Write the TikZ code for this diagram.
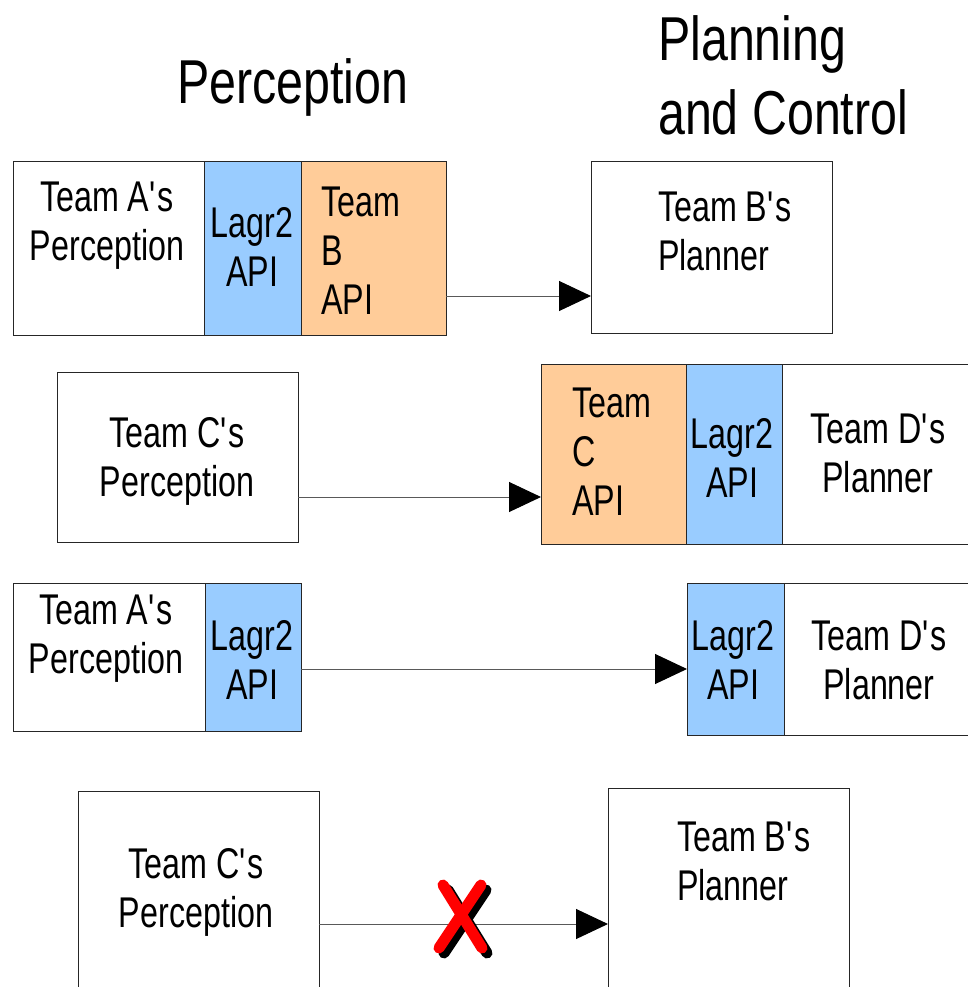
\documentclass[tikz,border=0pt]{standalone}
\usepackage{fontspec}
\setmainfont{Liberation Sans}[FakeStretch=0.75]
\newfontfamily\titlefont{Liberation Sans}[FakeStretch=0.78]
\usetikzlibrary{arrows.meta}
\definecolor{apiblue}{HTML}{99CCFF}
\definecolor{apiorange}{HTML}{FFCC99}
\newcommand\qs{\textquotesingle}
\begin{document}
\begin{tikzpicture}[x=1pt,y=-1pt,
  boxnode/.style={draw=black!85, line width=1pt, fill=white, anchor=north west, inner sep=0pt, outer sep=0pt},
  bluebox/.style={boxnode, fill=apiblue},
  orangebox/.style={boxnode, fill=apiorange},
  lbl/.style={inner sep=0pt, font=\fontsize{43}{49}\selectfont},
  ctitle/.style={inner sep=0pt, font=\titlefont\fontsize{62}{74}\selectfont, align=left, anchor=north west},
  arr/.style={draw=black!65, line width=1pt, -{Triangle[length=32pt,width=30pt,color=black,fill=black]}},
  xmark/.style={line width=11pt, line cap=round}
]
\useasboundingbox (0,0) rectangle (968,987);
\clip (0,0) rectangle (968,987);

% titles
\node[ctitle] (tperc) at (177,58) {Perception};
\node[ctitle] (tplan) at (658,15) {Planning\\and Control};

% row 1
\node[boxnode, minimum width=191pt, minimum height=173pt] (ap1) at (13,162) {};
\node[bluebox, minimum width=97pt, minimum height=173pt] (la1) at (204,162) {};
\node[orangebox, minimum width=145pt, minimum height=173pt] (bapi) at (301,162) {};
\node[boxnode, minimum width=241pt, minimum height=171pt] (bp1) at (591,162) {};
\node[lbl, anchor=north, align=center] (tap1) at (107,182) {Team A\qs s\\Perception};
\node[lbl, anchor=north, align=center] (tla1) at (252,207) {Lagr2\\API};
\node[lbl, anchor=north west, align=left] (tbapi) at (321,187) {Team\\B\\API};
\node[lbl, anchor=north west, align=left] (tbp1) at (658,192) {Team B\qs s\\Planner};
\draw[arr] ([yshift=-47.5pt]bapi.east) coordinate (s1) -- (s1 -| bp1.west);

% row 2
\node[boxnode, minimum width=241pt, minimum height=170pt] (cp2) at (57,372) {};
\node[orangebox, minimum width=145pt, minimum height=180pt] (capi) at (541,364) {};
\node[bluebox, minimum width=96pt, minimum height=180pt] (la2) at (686,364) {};
\node[boxnode, minimum width=210pt, minimum height=180pt] (dp2) at (782,364) {};
\node[lbl, anchor=north, align=center] (tcp2) at (177,417) {Team C\qs s\\Perception};
\node[lbl, anchor=north west, align=left] (tcapi) at (572,388) {Team\\C\\API};
\node[lbl, anchor=north, align=center] (tla2) at (732,418) {Lagr2\\API};
\node[lbl, anchor=north, align=center] (tdp2) at (878,414) {Team D\qs s\\Planner};
\draw[arr] ([yshift=-40pt]cp2.east) coordinate (s2) -- (s2 -| capi.west);

% row 3
\node[boxnode, minimum width=192pt, minimum height=148pt] (ap3) at (13,583) {};
\node[bluebox, minimum width=96pt, minimum height=148pt] (la3) at (205,583) {};
\node[bluebox, minimum width=97pt, minimum height=152pt] (la4) at (687,583) {};
\node[boxnode, minimum width=210pt, minimum height=152pt] (dp4) at (784,583) {};
\node[lbl, anchor=north, align=center] (tap3) at (106,595) {Team A\qs s\\Perception};
\node[lbl, anchor=north, align=center] (tla3) at (252,620) {Lagr2\\API};
\node[lbl, anchor=north, align=center] (tla4) at (733,620) {Lagr2\\API};
\node[lbl, anchor=north, align=center] (tdp4) at (879,621) {Team D\qs s\\Planner};
\draw[arr] ([yshift=-12pt]la3.east) coordinate (s3) -- (s3 -| la4.west);

% row 4
\node[boxnode, minimum width=241pt, minimum height=260pt] (cp4) at (78,791) {};
\node[boxnode, minimum width=241pt, minimum height=260pt] (bp4) at (608,788) {};
\node[lbl, anchor=north, align=center] (tcp4) at (196,848) {Team C\qs s\\Perception};
\node[lbl, anchor=north west, align=left] (tbp4) at (677,822) {Team B\qs s\\Planner};
\draw[arr] ([yshift=-3pt]cp4.east) coordinate (s4) -- (s4 -| bp4.west);

% red cross with shadow
\begin{scope}[shift={(5,5)}]
\draw[xmark, black] (443,885) -- (482,948);
\draw[xmark, black] (481,885) -- (439,948);
\end{scope}
\draw[xmark, red] (443,885) -- (482,948);
\draw[xmark, red] (481,885) -- (439,948);
\end{tikzpicture}
\end{document}
